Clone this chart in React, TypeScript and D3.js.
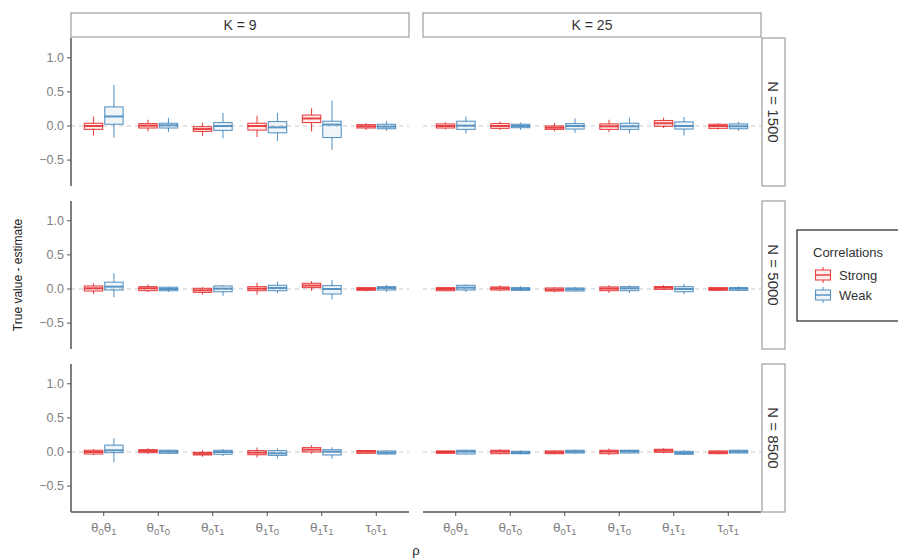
import * as d3 from "d3";

// categories and facets
const params = ["θ0θ1", "θ0τ0", "θ0τ1", "θ1τ0", "θ1τ1", "τ0τ1"];
const kLabels = ["K = 9", "K = 25"];
const nLabels = ["N = 1500", "N = 5000", "N = 8500"];
const groups = ["Strong", "Weak"];
const yTicks = [-0.5, 0, 0.5, 1.0];

// each box: [lower whisker, q1, median, q3, upper whisker]
const strongK9N1500 = [
  [-0.14, -0.05, 0.0, 0.04, 0.14],
  [-0.08, -0.03, 0.005, 0.035, 0.09],
  [-0.15, -0.08, -0.045, -0.01, 0.05],
  [-0.16, -0.06, 0.0, 0.04, 0.15],
  [-0.08, 0.05, 0.11, 0.16, 0.26],
  [-0.06, -0.03, -0.005, 0.02, 0.04],
];
const weakK9N1500 = [
  [-0.17, 0.025, 0.14, 0.28, 0.6],
  [-0.09, -0.03, 0.01, 0.04, 0.12],
  [-0.18, -0.065, 0.0, 0.05, 0.19],
  [-0.22, -0.1, -0.02, 0.065, 0.19],
  [-0.35, -0.17, 0.02, 0.07, 0.37],
  [-0.07, -0.04, -0.01, 0.025, 0.07],
];
const strongK25N1500 = [
  [-0.05, -0.03, 0, 0.03, 0.055],
  [-0.06, -0.035, 0, 0.035, 0.065],
  [-0.08, -0.05, -0.025, 0, 0.045],
  [-0.09, -0.05, -0.005, 0.03, 0.09],
  [-0.03, -0.005, 0.04, 0.08, 0.12],
  [-0.05, -0.035, 0, 0.025, 0.04],
];
const weakK25N1500 = [
  [-0.11, -0.05, 0.005, 0.07, 0.14],
  [-0.06, -0.025, 0, 0.025, 0.05],
  [-0.1, -0.045, 0, 0.035, 0.11],
  [-0.11, -0.05, -0.005, 0.04, 0.12],
  [-0.14, -0.045, 0, 0.06, 0.13],
  [-0.07, -0.04, -0.005, 0.03, 0.06],
];
const strongK9N5000 = [
  [-0.074, -0.03, 0.01, 0.044, 0.083],
  [-0.044, -0.025, 0.01, 0.034, 0.064],
  [-0.083, -0.05, -0.02, 0.01, 0.025],
  [-0.083, -0.025, 0.005, 0.034, 0.093],
  [-0.025, 0.02, 0.05, 0.083, 0.118],
  [-0.035, -0.02, 0, 0.02, 0.025],
];
const weakK9N5000 = [
  [-0.12, -0.015, 0.034, 0.1, 0.23],
  [-0.044, -0.025, 0, 0.025, 0.034],
  [-0.1, -0.04, 0.005, 0.044, 0.06],
  [-0.064, -0.025, 0.015, 0.054, 0.11],
  [-0.15, -0.074, 0, 0.05, 0.13],
  [-0.044, -0.015, 0.015, 0.034, 0.06],
];
const strongK25N5000 = [
  [-0.035, -0.025, 0, 0.02, 0.025],
  [-0.034, -0.015, 0.01, 0.03, 0.05],
  [-0.05, -0.03, -0.01, 0.015, 0.025],
  [-0.06, -0.025, 0.005, 0.03, 0.054],
  [-0.015, -0.005, 0.02, 0.034, 0.054],
  [-0.03, -0.02, 0, 0.02, 0.025],
];
const weakK25N5000 = [
  [-0.044, -0.015, 0.02, 0.054, 0.07],
  [-0.034, -0.02, 0, 0.02, 0.04],
  [-0.04, -0.03, -0.005, 0.015, 0.03],
  [-0.06, -0.025, 0.01, 0.034, 0.054],
  [-0.074, -0.04, 0, 0.034, 0.078],
  [-0.034, -0.02, 0.005, 0.02, 0.04],
];
const strongK9N8500 = [
  [-0.044, -0.03, 0, 0.025, 0.044],
  [-0.03, -0.01, 0.015, 0.034, 0.054],
  [-0.07, -0.044, -0.025, -0.005, 0.025],
  [-0.08, -0.04, -0.01, 0.02, 0.064],
  [-0.025, 0, 0.034, 0.064, 0.1],
  [-0.03, -0.02, 0.005, 0.02, 0.03],
];
const weakK9N8500 = [
  [-0.15, -0.01, 0.025, 0.1, 0.2],
  [-0.03, -0.02, 0.005, 0.025, 0.034],
  [-0.06, -0.034, 0, 0.025, 0.044],
  [-0.093, -0.05, -0.02, 0.02, 0.054],
  [-0.1, -0.044, 0.005, 0.034, 0.07],
  [-0.04, -0.03, -0.01, 0.015, 0.025],
];
const strongK25N8500 = [
  [-0.03, -0.02, 0, 0.015, 0.02],
  [-0.034, -0.025, 0.005, 0.025, 0.04],
  [-0.034, -0.025, -0.005, 0.015, 0.025],
  [-0.044, -0.025, 0.005, 0.025, 0.05],
  [-0.02, -0.005, 0.02, 0.04, 0.054],
  [-0.034, -0.025, -0.005, 0.015, 0.025],
];
const weakK25N8500 = [
  [-0.04, -0.03, 0.005, 0.025, 0.034],
  [-0.034, -0.025, -0.01, 0.01, 0.02],
  [-0.025, -0.015, 0.005, 0.025, 0.034],
  [-0.025, -0.015, 0.01, 0.025, 0.034],
  [-0.044, -0.034, -0.015, 0.01, 0.025],
  [-0.02, -0.015, 0.005, 0.025, 0.034],
];

// rows = N, cols = K, each cell = [strong, weak]
const panels = [
  [[strongK9N1500, weakK9N1500], [strongK25N1500, weakK25N1500]],
  [[strongK9N5000, weakK9N5000], [strongK25N5000, weakK25N5000]],
  [[strongK9N8500, weakK9N8500], [strongK25N8500, weakK25N8500]],
];

const colors = ["#E41A1C", "#377EB8"];
const font = "'Liberation Sans', Arial, sans-serif";

const W = 898;
const H = 560;
const colX = [71, 423];
const rowY = [38, 201, 364];
const panelW = 338;
const panelH = 148;

// parameter label with subscripts, e.g. θ0θ1
const ParamLabel = ({ label }: { label: string }) => {
  const parts: JSX.Element[] = [];
  for (let i = 0; i < label.length; i += 2) {
    parts.push(<tspan key={i + "s"} dy={i === 0 ? 0 : -3}>{label[i]}</tspan>);
    parts.push(<tspan key={i + "n"} dy={3} fontSize={9.5}>{label[i + 1]}</tspan>);
  }
  return <>{parts}</>;
};

const Panel = ({ data, showY, showX }: { data: number[][][]; showY: boolean; showX: boolean }) => {
  const x = d3.scalePoint().domain(params).range([0, panelW]).padding(0.6);
  const y = d3.scaleLinear().domain([-0.88, 1.29]).range([panelH, 0]);
  const step = x.step();
  const bw = 0.3375 * step;
  const off = 0.1875 * step;

  return (
    <g>
      <line x1={0} x2={panelW} y1={y(0)} y2={y(0)} stroke="#c8c8c8" strokeDasharray="4,4" strokeWidth={1} />
      {data.map((series, gi) =>
        series.map((b, i) => {
          const cx = (x(params[i]) as number) + (gi === 0 ? -off : off);
          const [lo, q1, med, q3, hi] = b;
          return (
            <g key={gi + "-" + i} stroke={colors[gi]} strokeOpacity={0.8}>
              <line x1={cx} x2={cx} y1={y(hi)} y2={y(q3)} strokeWidth={1.1} />
              <line x1={cx} x2={cx} y1={y(q1)} y2={y(lo)} strokeWidth={1.1} />
              <rect
                x={cx - bw / 2}
                y={y(q3)}
                width={bw}
                height={Math.max(0.5, y(q1) - y(q3))}
                fill={colors[gi]}
                fillOpacity={0.08}
                strokeWidth={1.1}
              />
              <line x1={cx - bw / 2} x2={cx + bw / 2} y1={y(med)} y2={y(med)} strokeWidth={2} />
            </g>
          );
        })
      )}
      {showY && (
        <g>
          <line x1={0} x2={0} y1={0} y2={panelH} stroke="#555" strokeWidth={1.5} />
          {yTicks.map((t) => (
            <g key={t} transform={`translate(0,${y(t)})`}>
              <line x1={-4} x2={0} stroke="#555" strokeWidth={1} />
              <text x={-7} dy="0.35em" textAnchor="end" fontSize={12.5} fill="#808080" fontFamily={font}>
                {d3.format(".1f")(t)}
              </text>
            </g>
          ))}
        </g>
      )}
      {showX && (
        <g transform={`translate(0,${panelH})`}>
          <line x1={0} x2={panelW} stroke="#555" strokeWidth={1.5} />
          {params.map((p) => (
            <g key={p} transform={`translate(${x(p)},0)`}>
              <line y1={0} y2={4} stroke="#555" strokeWidth={1} />
              <text y={20} textAnchor="middle" fontSize={13.5} fill="#808080" fontFamily={font}>
                <ParamLabel label={p} />
              </text>
            </g>
          ))}
        </g>
      )}
    </g>
  );
};

export default function App() {
  const legendX = 797;
  const legendY = 230;
  return (
    <svg width={W} height={H} style={{ position: "absolute", left: 0, top: 0, background: "#fff" }}>
      <rect width={W} height={H} fill="#fff" />
      {/* top strips */}
      {kLabels.map((k, c) => (
        <g key={k} transform={`translate(${colX[c]},13)`}>
          <rect width={panelW} height={24} fill="#fff" stroke="#8a8a8a" strokeWidth={1} />
          <text x={panelW / 2} y={12} dy="0.35em" textAnchor="middle" fontSize={14} fill="#333" fontFamily={font}>
            {k}
          </text>
        </g>
      ))}
      {/* right strips */}
      {nLabels.map((n, r) => (
        <g key={n} transform={`translate(762,${rowY[r]})`}>
          <rect width={23} height={panelH} fill="#fff" stroke="#8a8a8a" strokeWidth={1} />
          <text
            transform={`translate(11.5,${panelH / 2}) rotate(90)`}
            dy="0.35em"
            textAnchor="middle"
            fontSize={15}
            fill="#333"
            fontFamily={font}
          >
            {n}
          </text>
        </g>
      ))}
      {/* panels */}
      {panels.map((row, r) =>
        row.map((cell, c) => (
          <g key={r + "-" + c} transform={`translate(${colX[c]},${rowY[r]})`}>
            <Panel data={cell} showY={c === 0} showX={r === 2} />
          </g>
        ))
      )}
      {/* axis titles */}
      <text
        transform={`translate(18,${(rowY[0] + rowY[2] + panelH) / 2}) rotate(-90)`}
        textAnchor="middle"
        dy="0.35em"
        fontSize={12}
        fill="#222"
        fontFamily={font}
      >
        True value - estimate
      </text>
      <text x={(colX[0] + colX[1] + panelW) / 2} y={555} textAnchor="middle" fontSize={13} fill="#222" fontFamily={font}>
        ρ
      </text>
      {/* legend */}
      <g transform={`translate(${legendX},${legendY})`}>
        <rect width={120} height={91} fill="#fff" stroke="#222" strokeWidth={1.2} />
        <text x={16} y={27} fontSize={13} fill="#333" fontFamily={font}>
          Correlations
        </text>
        {groups.map((g, i) => (
          <g key={g} transform={`translate(26,${45 + i * 20})`} stroke={colors[i]} strokeOpacity={0.8}>
            <line x1={0} x2={0} y1={-8} y2={-5} strokeWidth={1.1} />
            <line x1={0} x2={0} y1={5} y2={8} strokeWidth={1.1} />
            <rect x={-7.5} y={-5} width={15} height={10} fill={colors[i]} fillOpacity={0.08} strokeWidth={1.1} />
            <line x1={-7.5} x2={7.5} y1={0} y2={0} strokeWidth={1.5} />
            <text x={16} dy="0.35em" fontSize={13} fill="#333" stroke="none" fontFamily={font}>
              {g}
            </text>
          </g>
        ))}
      </g>
    </svg>
  );
}
